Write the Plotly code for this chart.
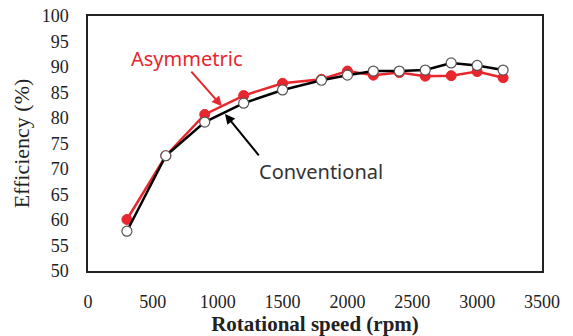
import plotly.graph_objects as go

rpm = [300, 600, 900, 1200, 1500, 1800, 2000, 2200, 2400, 2600, 2800, 3000, 3200]
asymmetric = [60.1, 72.6, 80.7, 84.4, 86.8, 87.6, 89.2, 88.4, 88.9, 88.2, 88.3, 89.1, 87.9]
conventional = [57.8, 72.6, 79.2, 82.9, 85.5, 87.4, 88.4, 89.2, 89.2, 89.4, 90.8, 90.3, 89.4]
x_ticks = [0, 500, 1000, 1500, 2000, 2500, 3000, 3500]
y_ticks = [50, 55, 60, 65, 70, 75, 80, 85, 90, 95, 100]

fig = go.Figure()
fig.add_trace(go.Scatter(x=rpm, y=asymmetric, mode="lines+markers", name="Asymmetric",
                         line=dict(color="#e8262d", width=2.5),
                         marker=dict(size=10, color="#e8262d", line=dict(color="#e8262d", width=1))))
fig.add_trace(go.Scatter(x=rpm, y=conventional, mode="lines+markers", name="Conventional",
                         line=dict(color="black", width=2.5),
                         marker=dict(size=10, color="white", line=dict(color="#555555", width=1.2))))

serif = "Liberation Serif, Times New Roman, serif"
fig.add_annotation(x=1033, y=82.3, ax=786, ay=89.4, axref="x", ayref="y",
                   xref="x", yref="y", showarrow=True, arrowhead=2, arrowsize=1, arrowwidth=2,
                   arrowcolor="#e8262d", text="", standoff=0)
fig.add_annotation(x=1056, y=80.8, ax=1326, ay=72.4, axref="x", ayref="y",
                   xref="x", yref="y", showarrow=True, arrowhead=2, arrowsize=1, arrowwidth=2,
                   arrowcolor="black", text="", standoff=0)
fig.add_annotation(x=759, y=91.7, xref="x", yref="y", text="Asymmetric", showarrow=False,
                   xanchor="center", yanchor="middle",
                   font=dict(family="Noto Sans", size=20, color="#e8262d"))
fig.add_annotation(x=1797, y=69.5, xref="x", yref="y", text="Conventional", showarrow=False,
                   xanchor="center", yanchor="middle",
                   font=dict(family="Noto Sans", size=20, color="#333333"))

fig.update_layout(
    width=573, height=336,
    margin=dict(l=88, r=31, t=16, b=65),
    paper_bgcolor="white", plot_bgcolor="white",
    showlegend=False,
    font=dict(family=serif, size=18, color="#222222"),
)
fig.update_xaxes(range=[0, 3500], tickvals=x_ticks, ticktext=[str(v) for v in x_ticks],
                 showgrid=False, zeroline=False, showline=True, linecolor="#222222", linewidth=1.5,
                 mirror=True, ticks="", ticklen=0, automargin=False, ticklabelstandoff=14,
                 title=dict(text="<b>Rotational speed (rpm)</b>", font=dict(family=serif, size=21), standoff=5))
fig.update_yaxes(range=[50, 100], tickvals=y_ticks, ticktext=[str(v) for v in y_ticks],
                 showgrid=False, zeroline=False, showline=True, linecolor="#222222", linewidth=1.5,
                 mirror=True, ticks="", ticklen=0, automargin=False, ticklabelstandoff=14,
                 title=dict(text="Efficiency (%)", font=dict(family=serif, size=22), standoff=6))

fig.write_html("out.html", config={"displayModeBar": False},
               post_script="document.body.style.margin='0';")
